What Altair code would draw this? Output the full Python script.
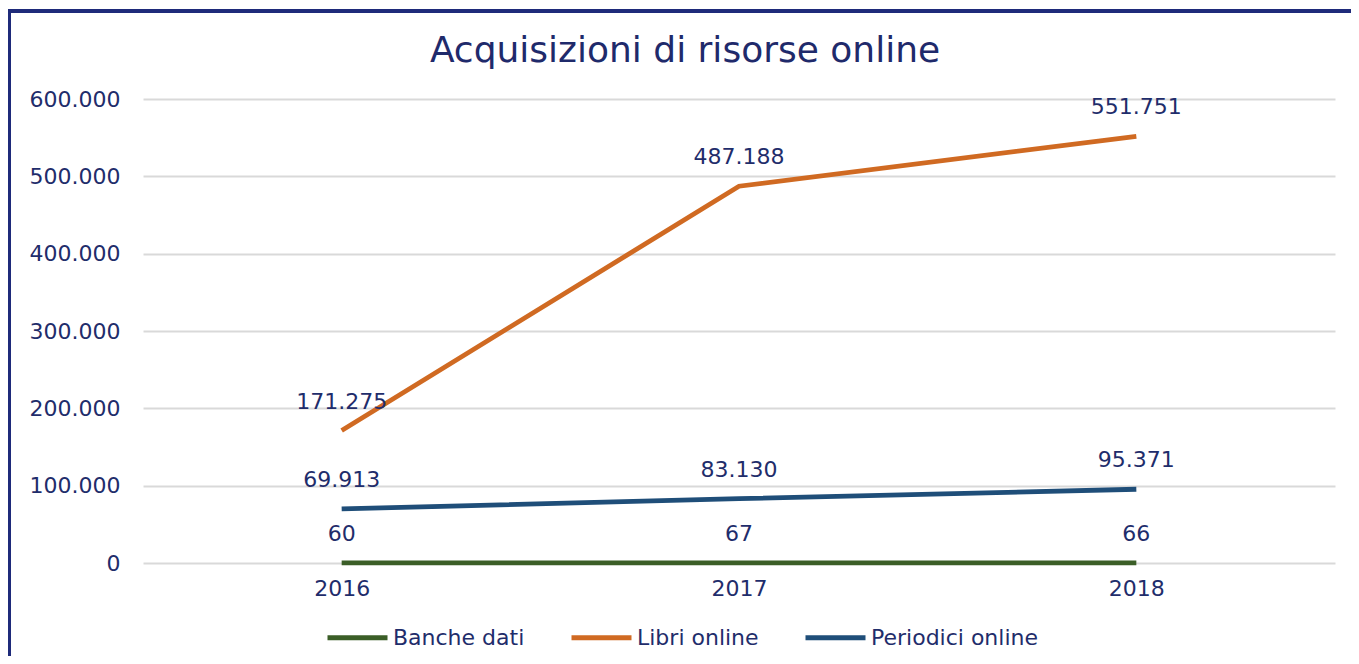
import altair as alt
import pandas as pd

years = ["2016", "2017", "2018"]
banche = [60, 67, 66]
libri = [171275, 487188, 551751]
periodici = [69913, 83130, 95371]
series_names = ["Banche dati", "Libri online", "Periodici online"]
series_colors = ["#3b5e27", "#d06a22", "#1f4e79"]
y_ticks = [0, 100000, 200000, 300000, 400000, 500000, 600000]
title_text = ["Acquisizioni di risorse online"]

rows = []
for name, vals in zip(series_names, [banche, libri, periodici]):
    for y, v in zip(years, vals):
        rows.append({"Anno": y, "Serie": name, "Valore": v})
df = pd.DataFrame(rows)

NAVY = "#1f2d6b"
FONT = "DejaVu Sans"
FS = 22
fmt = "replace(format(datum.value, ','), ',', '.')"

x = alt.X("Anno:O", axis=alt.Axis(title=None, labelAngle=0, domain=False, ticks=False,
                                  labelFontSize=FS, labelColor=NAVY, labelFont=FONT,
                                  labelPadding=15),
          scale=alt.Scale(type="point", padding=0.5))
y = alt.Y("Valore:Q", scale=alt.Scale(domain=[0, 600000]),
          axis=alt.Axis(title=None, values=y_ticks, labelExpr=fmt, domain=False, ticks=False,
                        gridColor="#d9d9d9", gridWidth=2, labelFontSize=FS,
                        labelColor=NAVY, labelFont=FONT, labelPadding=23))
color = alt.Color("Serie:N", scale=alt.Scale(domain=series_names, range=series_colors),
                  legend=alt.Legend(title=None, orient="none", direction="horizontal",
                                    legendX=182, legendY=506, symbolType="stroke",
                                    symbolSize=3600, symbolStrokeWidth=5,
                                    labelFontSize=FS, labelColor=NAVY, labelFont=FONT,
                                    labelLimit=400, columnPadding=36, labelOffset=3))

lines = alt.Chart(df).mark_line(strokeWidth=4.8).encode(x=x, y=y, color=color)
labels = alt.Chart(df).transform_calculate(
    lab="replace(format(datum.Valore, ','), ',', '.')"
).mark_text(dy=-29, fontSize=FS, color=NAVY, font=FONT, baseline="middle").encode(
    x=x, y=y, text="lab:N")

title = alt.Chart(pd.DataFrame({"t": title_text})).mark_text(
    fontSize=36, font=FONT, color="#1f2a6b", baseline="middle", align="center"
).encode(x=alt.value(542), y=alt.value(-48), text="t:N")

frame_top = alt.Chart(df).mark_rule(color="#1f2b7a", strokeWidth=3).encode(
    x=alt.value(-135), x2=alt.value(1230), y=alt.value(-88))
frame_left = alt.Chart(df).mark_rule(color="#1f2b7a", strokeWidth=3).encode(
    x=alt.value(-134), y=alt.value(-88), y2=alt.value(570))

chart = alt.layer(lines, labels, title, frame_top, frame_left).properties(
    width=1192, height=464,
    autosize=alt.AutoSizeParams(type="none"),
    padding={"left": 135, "top": 91, "right": 16, "bottom": 93},
).configure_view(stroke=None)

chart.save("out.html", embed_options={"renderer": "svg", "actions": False})
